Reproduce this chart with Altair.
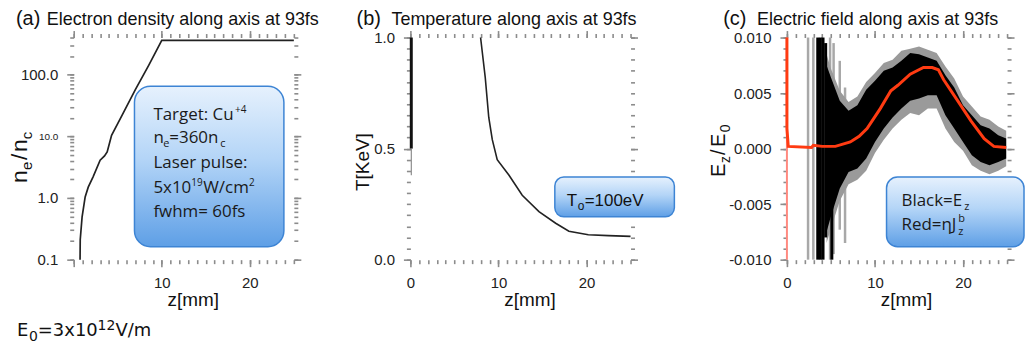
import altair as alt
import pandas as pd

FONT = "Liberation Sans"
BOXF = "Open Sans"
W, H = 221, 223
TICK = "#8c8c8c"

# ---------------- data ----------------
# (a) electron density along axis
a_z = [0.72, 0.74, 0.95, 1.3, 1.65, 2.2, 3.0, 3.5, 3.8, 4.3, 5.5, 7.0, 8.5, 10.0, 25.0]
a_ne = [0.1, 0.21, 0.49, 1.04, 1.5, 2.2, 4.1, 4.8, 5.6, 10.4, 22, 57, 140, 360, 360]

# (b) temperature along axis
b_z = [7.97, 8.5, 8.9, 9.3, 9.86, 11.2, 12.7, 14.6, 16.5, 18.0, 20.2, 22.5, 25.0]
b_T = [1.0, 0.82, 0.64, 0.54, 0.45, 0.38, 0.29, 0.216, 0.164, 0.128, 0.112, 0.108, 0.105]
b_wall_z = [0.1, 0.1]
b_wall_T = [1.0, 0.5]
b_wall2_T = [0.5, 0.38]

# (c) electric field: red = eta*J_z^b
c_red_z = [0.0, 0.0, 0.15, 2.8, 3.0, 4.0, 5.5, 7.2, 8.2, 9.1, 10.6, 11.8, 12.6, 14.0,
           15.5, 16.5, 17.2, 17.8, 19.4, 20.9, 22.4, 23.5, 24.9]
c_red_v = [0.0100, 0.0018, 0.0002, 0.0001, 0.0003, 0.0002, 0.0002, 0.0006, 0.0011, 0.0018,
           0.0036, 0.0052, 0.0057, 0.0067, 0.0073, 0.0073, 0.0071, 0.0062, 0.0043, 0.0025,
           0.0009, 0.0002, 0.0001]
# black E_z band (envelopes)
c_env_z = [4.5, 5.0, 6.0, 7.0, 8.0, 9.0, 10.0, 11.0, 12.0, 13.0, 14.0, 15.0, 16.0, 17.0,
           18.0, 19.0, 20.0, 21.0, 22.0, 23.0, 24.0, 24.9]
c_env_hi = [0.0075, 0.0064, 0.0043, 0.0034, 0.0039, 0.0053, 0.0061, 0.0070, 0.0073, 0.0079,
            0.0086, 0.0085, 0.0082, 0.0079, 0.0066, 0.0055, 0.0039, 0.0030, 0.0021, 0.0018,
            0.0012, 0.0009]
c_env_lo = [-0.0075, -0.0061, -0.0036, -0.0021, -0.0018, -0.0009, 0.0006, 0.0018, 0.0028,
            0.0036, 0.0043, 0.0045, 0.0048, 0.0048, 0.0030, 0.0018, 0.0006, -0.0006, -0.0012,
            -0.0015, -0.0012, -0.0009]
c_gray_hi = [0.0085, 0.0072, 0.0052, 0.0042, 0.0047, 0.0060, 0.0068, 0.0077, 0.0080, 0.0088,
             0.0090, 0.0092, 0.0089, 0.0086, 0.0074, 0.0063, 0.0047, 0.0038, 0.0029, 0.0026,
             0.0020, 0.0016]
c_gray_lo = [-0.0085, -0.0072, -0.0047, -0.0032, -0.0028, -0.0020, -0.0004, 0.0008, 0.0018,
             0.0026, 0.0032, 0.0030, 0.0036, 0.0036, 0.0018, 0.0006, -0.0002, -0.0015, -0.0020,
             -0.0023, -0.0020, -0.0016]
# isolated spikes near the target surface
c_gspike_z = [2.4, 3.0, 4.9, 5.3, 6.0, 6.6]
c_gspike_lo = [-0.0100, -0.0100, -0.0100, -0.0095, -0.0073, -0.0085]
c_gspike_hi = [0.0100, 0.0100, 0.0100, 0.0095, 0.0079, 0.0055]
c_bspike_z = [3.5, 3.8, 4.1, 4.4, 5.1]
c_bspike_lo = [-0.0100, -0.0100, -0.0100, -0.0080, -0.0100]
c_bspike_hi = [0.0100, 0.0100, 0.0100, 0.0095, 0.0040]

# tick values
x_major = [0, 10, 20]
x_minor = list(range(0, 26))
a_y_major = [0.1, 1, 10, 100]
a_y_minor = [round(m * 10.0 ** e, 6) for e in (-1, 0, 1) for m in range(1, 10)] + [100, 200, 300, 400]
b_y_major = [0.0, 0.5, 1.0]
b_y_minor = [round(i * 0.05, 2) for i in range(21)]
c_y_major = [-0.01, -0.005, 0.0, 0.005, 0.01]
c_y_minor = [round(i * 0.001, 3) for i in range(-10, 11)]

ONE = pd.DataFrame({"k": [0]})

GRAD = alt.LinearGradient(
    gradient="linear",
    stops=[alt.GradientStop(color="#e6f1fd", offset=0),
           alt.GradientStop(color="#b4d5f7", offset=0.45),
           alt.GradientStop(color="#5e9fe6", offset=1)],
    x1=0, x2=0, y1=0, y2=1)


def ax(orient, values, size, labels=False, **kw):
    d = dict(orient=orient, values=values, domain=False, grid=False, ticks=True,
             tickColor=TICK, tickWidth=1.6, tickSize=size, labels=labels, title=None)
    if labels:
        d.update(labelFont=FONT, labelFontSize=15, labelColor="#222", labelPadding=9,
                 labelFlush=False, labelOverlap=False)
    d.update(kw)
    return alt.Axis(**d)


def frame_layers(df, xf, yf, xs, ys, ymaj, ymin, xkw, ykw):
    out = []
    specs = [
        ("bottom", "left", x_major, ymaj, 7, True),
        ("bottom", "left", x_minor, ymin, 4, False),
        ("top", "right", x_major, ymaj, 7, False),
        ("top", "right", x_minor, ymin, 4, False),
    ]
    for xo, yo, xv, yv, size, lab in specs:
        xa = ax(xo, xv, size, lab, **(xkw if lab else {}))
        ya = ax(yo, yv, size, lab, **(ykw if lab else {}))
        out.append(alt.Chart(df).mark_point(opacity=0).encode(
            x=alt.X(xf, scale=xs, axis=xa), y=alt.Y(yf, scale=ys, axis=ya)))
    return out


def txt(s, x, y, size, font=FONT, angle=0, color="#111", align="left"):
    return alt.Chart(ONE).mark_text(text=s, font=font, fontSize=size, angle=angle,
                                    align=align, baseline="alphabetic", color=color).encode(
        x=alt.value(x), y=alt.value(y))


def box(x1, y1, x2, y2, r):
    return alt.Chart(ONE).mark_rect(cornerRadius=r, fill=GRAD, stroke="#3d84d4",
                                    strokeWidth=1.5).encode(
        x=alt.value(x1), x2=alt.value(x2), y=alt.value(y1), y2=alt.value(y2))


XTITLE = dict(title="z[mm]", titleFont=FONT, titleFontSize=19, titleFontWeight="normal",
              titleColor="#111", titleX=W / 2 + 9, titleY=46, titleBaseline="alphabetic",
              titleAlign="center")

xs = alt.Scale(domain=[0, 25], nice=False, zero=False)
BT = "#1a1a1a"

# ---------------- panel (a) ----------------
dfa = pd.DataFrame({"z": a_z, "ne": a_ne})
ysa = alt.Scale(type="log", domain=[0.1, 400], nice=False)
pa_layers = frame_layers(
    dfa, "z:Q", "ne:Q", xs, ysa, a_y_major, a_y_minor,
    dict(labelExpr="datum.value == 0 ? '' : datum.label", **XTITLE),
    dict(format=".1f",
         labelFontSize={"condition": {"test": "datum.value == 10", "value": 10}, "value": 15}))
pa_layers.append(alt.Chart(dfa).mark_line(color="#222", strokeWidth=1.7).encode(
    x=alt.X("z:Q", scale=xs, axis=None), y=alt.Y("ne:Q", scale=ysa, axis=None)))
pa_layers += [
    box(61, 49, 211, 210, 16),
    txt("Target: Cu", 80, 83, 17, BOXF, color=BT),
    txt("+4", 162, 76, 10, BOXF, color=BT),
    txt("n", 80, 106, 17, BOXF, color=BT),
    txt("e", 90, 110, 11, BOXF, color=BT),
    txt("=360n", 96, 106, 17, BOXF, color=BT),
    txt("c", 147, 110, 11, BOXF, color=BT),
    txt("Laser pulse:", 80, 131, 17, BOXF, color=BT),
    txt("5x10", 80, 156, 17, BOXF, color=BT),
    txt("19", 118, 149, 10, BOXF, color=BT),
    txt("W/cm", 130, 156, 17, BOXF, color=BT),
    txt("2", 176, 149, 10, BOXF, color=BT),
    txt("fwhm= 60fs", 80, 180, 17, BOXF, color=BT),
    # titles
    txt("(a)", -58, -13, 20),
    txt("Electron density along axis at 93fs", -27, -13, 18),
    # y title n_e/n_c (rotated)
    txt("n", -47, 146, 23, angle=270),
    txt("e", -42, 133, 15, angle=270),
    txt("/", -47, 123, 23, angle=270),
    txt("n", -47, 115, 23, angle=270),
    txt("c", -42, 102, 15, angle=270),
    # E0 note
    txt("E", -57, 300, 18, "DejaVu Sans"),
    txt("0", -45, 305, 14, "DejaVu Sans"),
    txt("=3x10", -36, 300, 18, "DejaVu Sans"),
    txt("12", 24, 294, 14, "DejaVu Sans"),
    txt("V/m", 42, 300, 18, "DejaVu Sans"),
]
panel_a = alt.layer(*pa_layers).resolve_axis(x="independent", y="independent").properties(
    width=W, height=H)

# ---------------- panel (b) ----------------
dfb = pd.DataFrame({"z": b_z, "T": b_T})
ysb = alt.Scale(domain=[0, 1], nice=False, zero=False)
pb_layers = frame_layers(dfb, "z:Q", "T:Q", xs, ysb, b_y_major, b_y_minor,
                         dict(XTITLE), dict(format=".1f"))
dfw = pd.DataFrame({"z": b_wall_z, "T": b_wall_T})
dfw2 = pd.DataFrame({"z": b_wall_z, "T": b_wall2_T})
pb_layers += [
    alt.Chart(dfw).mark_line(color="#111", strokeWidth=3).encode(
        x=alt.X("z:Q", scale=xs, axis=None), y=alt.Y("T:Q", scale=ysb, axis=None)),
    alt.Chart(dfw2).mark_line(color="#777", strokeWidth=1).encode(
        x=alt.X("z:Q", scale=xs, axis=None), y=alt.Y("T:Q", scale=ysb, axis=None)),
    alt.Chart(dfb).mark_line(color="#222", strokeWidth=1.6).encode(
        x=alt.X("z:Q", scale=xs, axis=None), y=alt.Y("T:Q", scale=ysb, axis=None)),
    box(145, 140, 265, 180, 9),
    txt("T", 157, 169, 17),
    txt("o", 168, 173, 12),
    txt("=100eV", 175, 169, 17),
    txt("(b)", -54, -13, 20),
    txt("Temperature along axis at 93fs", -19, -13, 18),
    txt("T[KeV]", -42, 125, 19, angle=270, align="center"),
]
panel_b = alt.layer(*pb_layers).resolve_axis(x="independent", y="independent").properties(
    width=W, height=H)

# ---------------- panel (c) ----------------
ysc = alt.Scale(domain=[-0.01, 0.01], nice=False, zero=False)
dfr = pd.DataFrame({"z": c_red_z, "v": c_red_v, "i": list(range(len(c_red_z)))})
dfe = pd.DataFrame({"z": c_env_z, "hi": c_env_hi, "lo": c_env_lo,
                    "ghi": c_gray_hi, "glo": c_gray_lo})
dfgs = pd.DataFrame({"z": c_gspike_z, "lo": c_gspike_lo, "hi": c_gspike_hi})
dfbs = pd.DataFrame({"z": c_bspike_z, "lo": c_bspike_lo, "hi": c_bspike_hi})
dfpink = pd.DataFrame({"z": [0.0, 0.0], "v": [-0.01, 0.01]})
pc_layers = frame_layers(
    dfr, "z:Q", "v:Q", xs, ysc, c_y_major, c_y_minor, dict(XTITLE),
    dict(labelExpr="replace(format(datum.value, '.3f'), '\u2212', '-')"))
pc_layers += [
    alt.Chart(dfpink).mark_line(color="#ff8a80", strokeWidth=2).encode(
        x=alt.X("z:Q", scale=xs, axis=None), y=alt.Y("v:Q", scale=ysc, axis=None)),
    alt.Chart(dfgs).mark_rule(color="#a8a8a8", strokeWidth=2.5).encode(
        x=alt.X("z:Q", scale=xs, axis=None), y=alt.Y("hi:Q", scale=ysc, axis=None), y2="lo:Q"),
    alt.Chart(dfe).mark_area(color="#9a9a9a").encode(
        x=alt.X("z:Q", scale=xs, axis=None), y=alt.Y("ghi:Q", scale=ysc, axis=None), y2="glo:Q"),
    alt.Chart(dfe).mark_area(color="#000").encode(
        x=alt.X("z:Q", scale=xs, axis=None), y=alt.Y("hi:Q", scale=ysc, axis=None), y2="lo:Q"),
    alt.Chart(dfbs).mark_rule(color="#000", strokeWidth=3).encode(
        x=alt.X("z:Q", scale=xs, axis=None), y=alt.Y("hi:Q", scale=ysc, axis=None), y2="lo:Q"),
    alt.Chart(dfr).mark_line(color="#ff3b12", strokeWidth=3).encode(
        x=alt.X("z:Q", scale=xs, axis=None), y=alt.Y("v:Q", scale=ysc, axis=None),
        order="i:Q"),
    box(100, 140, 238, 210, 11),
    txt("Black=E", 115, 169, 17, BOXF, color=BT),
    txt("z", 178, 173, 11, BOXF, color=BT),
    txt("Red=\u03b7J", 115, 193, 17, BOXF, color=BT),
    txt("b", 172, 185, 11, BOXF, color=BT),
    txt("z", 172, 198, 11, BOXF, color=BT),
    txt("(c)", -64, -13, 20),
    txt("Electric field along axis at 93fs", -30, -13, 18),
    txt("E", -62, 140, 20, angle=270),
    txt("z", -57, 126, 14, angle=270),
    txt("/", -62, 118, 20, angle=270),
    txt("E", -62, 110, 20, angle=270),
    txt("0", -57, 95, 14, angle=270),
]
panel_c = alt.layer(*pc_layers).resolve_axis(x="independent", y="independent").properties(
    width=W, height=H)

chart = alt.hconcat(panel_a, panel_b, panel_c, spacing=34).configure_view(
    stroke=None).properties(padding={"left": 9, "top": 8, "right": 0, "bottom": 0},
                            background="white")

chart.save("out.html", embed_options={"renderer": "svg", "actions": False})
